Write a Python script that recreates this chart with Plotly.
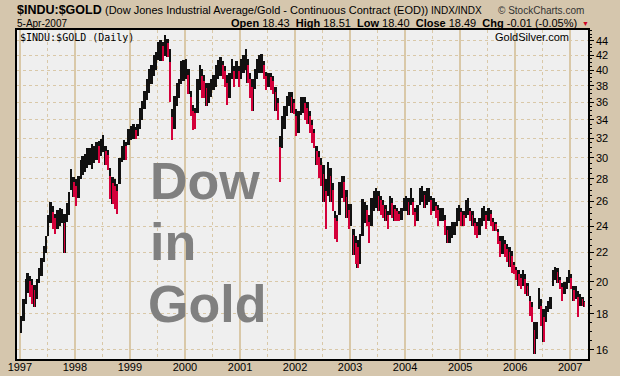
import pandas as pd
import plotly.graph_objects as go

# ---- data: half-month high / low of $INDU:$GOLD ----
# each row = one year, pairs (low, high) for 1st half and 2nd half of each month
periods = []
for yr in range(1997, 2008):
    for mo in range(1, 13):
        for day in (1, 16):
            periods.append(pd.Timestamp(yr, mo, day))
periods = [p for p in periods if p <= pd.Timestamp("2007-04-01")]
last_date = pd.Timestamp("2007-04-05")

lows = [
    16.9, 17.6, 18.6, 19.3, 19.0, 18.6, 18.4, 18.9, 19.9, 20.4, 21.3, 22.0,   # 1997
    23.2, 24.2, 23.8, 23.4, 23.8, 24.0, 24.2, 22.0, 24.3, 24.9, 27.0, 26.4,
    25.6, 26.3, 28.0, 28.4, 28.6, 29.0, 29.3, 28.9, 29.5, 29.8, 29.5, 30.2,   # 1998
    30.6, 29.3, 28.8, 26.2, 25.8, 25.4, 25.0, 27.5, 29.6, 29.8, 29.8, 31.3,
    31.8, 31.9, 31.9, 32.2, 33.0, 34.0, 35.2, 36.3, 37.1, 38.2, 39.2, 40.0,   # 1999
    41.4, 41.2, 41.2, 41.9, 41.8, 36.0, 31.8, 33.0, 35.5, 36.5, 38.2, 38.6,
    38.8, 37.0, 34.4, 32.9, 33.0, 34.8, 37.5, 36.5, 36.5, 35.5, 35.9, 36.6,   # 2000
    37.5, 37.8, 38.8, 39.2, 38.9, 37.9, 35.7, 36.5, 38.8, 37.9, 38.8, 37.9,
    38.8, 39.6, 40.0, 38.3, 36.5, 35.0, 37.6, 38.8, 39.6, 39.6, 38.8, 37.5,   # 2001
    37.9, 37.5, 37.0, 35.0, 34.0, 27.7, 31.0, 33.0, 34.4, 35.6, 34.8, 34.6,
    32.2, 32.5, 34.5, 34.8, 34.0, 33.5, 32.5, 31.5, 31.0, 29.3, 28.1, 27.4,   # 2002
    26.0, 23.8, 26.5, 26.0, 25.2, 23.0, 22.8, 24.9, 26.3, 26.0, 24.6, 23.8,
    24.0, 21.8, 21.2, 20.9, 21.2, 23.2, 24.2, 24.0, 22.7, 24.0, 25.2, 25.5,   # 2003
    25.2, 24.9, 24.6, 24.4, 23.8, 24.9, 24.6, 24.4, 24.4, 24.4, 24.5, 25.2,
    25.2, 24.9, 25.7, 24.9, 24.0, 24.4, 25.7, 26.0, 25.5, 25.7, 26.0, 24.9,   # 2004
    25.2, 24.6, 24.0, 24.4, 24.4, 23.3, 22.7, 22.7, 23.1, 23.3, 24.0, 24.4,
    24.0, 24.0, 24.6, 24.9, 24.4, 24.0, 23.3, 23.1, 23.3, 24.0, 24.4, 23.8,   # 2005
    24.4, 24.0, 23.6, 23.6, 22.6, 21.7, 21.9, 21.7, 21.3, 21.0, 20.6, 20.5,
    20.1, 19.7, 19.5, 19.7, 19.2, 19.1, 17.9, 17.5, 15.8, 16.6, 18.3, 17.3,   # 2006
    16.4, 17.5, 18.1, 18.3, 19.7, 20.1, 19.9, 19.5, 18.8, 19.2, 19.5, 19.9,
    19.5, 18.8, 18.9, 17.8, 18.5, 18.5, 18.4,                                 # 2007
]
highs = [
    17.9, 18.9, 20.2, 20.6, 20.4, 20.2, 19.8, 20.2, 20.9, 21.6, 22.5, 23.2,   # 1997
    24.9, 26.0, 25.6, 25.0, 25.3, 25.5, 25.4, 25.0, 25.9, 26.8, 28.9, 28.2,
    28.0, 28.3, 29.8, 30.2, 30.4, 31.0, 31.0, 31.4, 31.2, 31.6, 31.7, 31.9,   # 1998
    32.3, 31.2, 30.8, 29.0, 28.2, 28.0, 27.5, 30.0, 31.2, 31.8, 31.6, 33.0,
    33.3, 33.5, 33.2, 33.5, 35.3, 36.2, 37.3, 38.9, 40.2, 40.6, 42.0, 42.5,   # 1999
    43.8, 44.2, 43.9, 44.8, 44.3, 42.8, 35.2, 36.8, 38.4, 38.9, 41.2, 41.3,
    41.5, 40.2, 37.3, 35.7, 35.3, 38.8, 40.6, 40.2, 39.3, 38.4, 38.4, 38.8,   # 2000
    39.3, 40.6, 41.3, 41.8, 41.2, 40.5, 39.3, 39.6, 41.5, 40.5, 41.2, 40.5,
    41.5, 42.0, 42.8, 41.5, 39.6, 38.8, 40.1, 41.5, 42.0, 42.2, 41.2, 39.8,   # 2001
    39.6, 39.6, 39.2, 37.9, 36.5, 32.2, 34.4, 35.6, 36.7, 37.2, 37.2, 36.4,
    35.2, 35.0, 36.6, 36.6, 36.6, 36.0, 35.0, 34.0, 33.0, 31.2, 30.7, 30.0,   # 2002
    29.3, 28.0, 29.6, 29.0, 27.6, 25.2, 24.9, 27.7, 28.3, 28.3, 27.0, 25.8,
    25.8, 23.8, 23.2, 22.9, 23.4, 26.2, 26.0, 25.7, 24.9, 26.3, 26.9, 27.2,   # 2003
    26.9, 26.5, 26.1, 25.7, 25.2, 26.5, 26.3, 25.7, 25.5, 25.2, 25.5, 26.3,
    26.5, 26.3, 27.2, 26.3, 25.5, 25.7, 27.2, 27.4, 26.9, 27.2, 27.2, 26.5,   # 2004
    26.3, 26.0, 25.7, 25.5, 25.5, 24.9, 24.0, 24.0, 24.3, 24.3, 25.5, 25.7,
    25.5, 25.2, 26.1, 26.3, 25.5, 25.2, 24.6, 24.3, 24.6, 25.5, 25.6, 25.2,   # 2005
    25.5, 25.3, 24.6, 24.3, 23.8, 23.2, 23.2, 22.9, 22.6, 22.4, 22.1, 21.3,
    21.0, 20.8, 20.5, 20.8, 20.5, 19.9, 19.1, 18.7, 17.5, 17.5, 19.6, 18.9,   # 2006
    18.3, 18.5, 18.8, 19.0, 20.8, 21.0, 20.9, 20.3, 19.9, 20.0, 20.3, 20.8,
    20.5, 19.7, 19.7, 19.4, 19.2, 19.0, 18.8,                                 # 2007
]
y_ticks = [16, 18, 20, 22, 24, 26, 28, 30, 32, 34, 36, 38, 40, 42, 44]
x_ticks = [str(y) for y in range(1997, 2008)]

# ---- geometry helpers ----
W, H = 620, 376
L, R, T, B = 17, 588, 30, 359
def px(x):
    return (x - L) / (R - L)
def py(y):
    return (B - y) / (B - T)

ends = periods[1:] + [last_date + pd.Timedelta(days=1)]
mids = [p + (e - p) / 2 for p, e in zip(periods, ends)]
widths = [(e - p).total_seconds() * 1000 for p, e in zip(periods, ends)]
spans = [h - l for h, l in zip(highs, lows)]

# down periods (mid-range below previous one) get a thin red stroke
down = [i for i in range(1, len(highs))
        if highs[i] + lows[i] < highs[i - 1] + lows[i - 1]]

TAN = "#d5c6ad"
GRID = "#d9c8a8"

fig = go.Figure()
fig.add_trace(go.Bar(
    x=mids, y=spans, base=lows, width=widths,
    marker=dict(color="#111111", line=dict(width=0)),
    hoverinfo="skip", showlegend=False,
))
fig.add_trace(go.Bar(
    x=[mids[i] for i in down], y=[spans[i] * 0.75 for i in down],
    base=[lows[i] for i in down], width=[widths[i] * 0.35 for i in down],
    marker=dict(color="#d4003a", line=dict(width=0)),
    hoverinfo="skip", showlegend=False,
))

fig.update_layout(
    width=W, height=H,
    margin=dict(l=L, r=W - R, t=T, b=H - B, pad=0, autoexpand=False),
    paper_bgcolor=TAN, plot_bgcolor="#efefef",
    font=dict(family="Liberation Sans, Arial, sans-serif", size=11, color="#000"),
    barmode="overlay", bargap=0,
    xaxis=dict(
        type="date", range=["1996-12-13", "2007-04-29"],
        tickmode="array",
        tickvals=[f"{y}-01-01" for y in x_ticks], ticktext=x_ticks,
        showgrid=True, gridcolor=GRID, gridwidth=1.5,
        minor=dict(tickmode="array",
                   tickvals=[f"{y}-07-01" for y in range(1997, 2007)],
                   showgrid=True, gridcolor=GRID, griddash="dot", gridwidth=1,
                   ticks=""),
        ticks="", ticklabelstandoff=-3,
        showline=True, linecolor="#000", linewidth=2, mirror=True,
        zeroline=False, tickfont=dict(size=11), automargin=False,
    ),
    yaxis=dict(
        type="log", side="right",
        range=[1.1911, 1.6590],
        tickmode="array", tickvals=y_ticks, ticktext=[str(v) for v in y_ticks],
        showgrid=True, gridcolor=GRID, griddash="dot", gridwidth=1,
        ticks="outside", ticklen=4, tickcolor="#000",
        minor=dict(tickmode="array",
                   tickvals=[v + 0.5 * k for v in range(15, 46, 1) for k in (0, 1)],
                   ticks="outside", ticklen=2, tickcolor="#000", showgrid=False),
        showline=True, linecolor="#000", linewidth=1.5, mirror=True,
        zeroline=False, tickfont=dict(size=11), automargin=False,
    ),
)

ann = []
def add(text, x, y, size, xanchor="left", color="#000", family=None, yanchor="middle"):
    d = dict(text=text, x=px(x), y=py(y), xref="paper", yref="paper",
             xanchor=xanchor, yanchor=yanchor, showarrow=False,
             font=dict(size=size, color=color), align="left")
    if family:
        d["font"]["family"] = family
    ann.append(d)

add("<b>$INDU:$GOLD</b>", 15, 10, 12.5)
add("(Dow Jones Industrial Average/Gold - Continuous Contract (EOD))", 103, 10, 11)
add("INDX/INDX", 429, 10, 10)
add("© StockCharts.com", 496, 10, 10, color="#333")
add("5-Apr-2007", 15, 23, 10)
add("<b>Open</b> 18.43  <b>High</b> 18.51  <b>Low</b> 18.40  <b>Close</b> 18.49  <b>Chg</b> -0.01 (-0.05%)",
    579, 23, 11, xanchor="right")
add("▼", 580, 23, 7, color="#cc0022")
add("$INDU:$GOLD (Daily)", 18, 37, 10, family="DejaVu Sans Mono, monospace")
add("GoldSilver.com", 493, 37, 11)
add("<b>Dow</b>", 148, 212, 52, color="#808080", yanchor="bottom")
add("<b>in</b>", 148, 273, 52, color="#808080", yanchor="bottom")
add("<b>Gold</b>", 146, 335, 52, color="#808080", yanchor="bottom")
fig.update_layout(annotations=ann)

fig.write_html("out.html", config={"displayModeBar": False},
               post_script="document.body.style.margin='0';document.body.style.padding='0';")
